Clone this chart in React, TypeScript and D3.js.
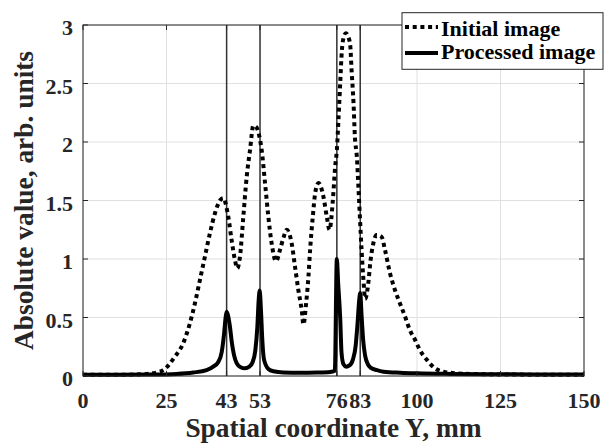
import React from "react";
import * as d3 from "d3";

const xTicks = [0, 25, 43, 53, 76, 83, 100, 125, 150];
const yTicks = [0, 0.5, 1, 1.5, 2, 2.5, 3];
const yTickLabels = ["0", "0.5", "1", "1.5", "2", "2.5", "3"];
const markerLines = [43, 53, 76, 83];

const initX = [0, 5, 10, 15, 20, 22, 24, 27.5, 30, 32, 33.5, 35, 36.5, 38, 39.5, 41, 42, 43.5, 44.5, 45.5, 46.2, 47, 48, 49, 50, 51, 51.8, 53, 53.5, 54.5, 55.5, 56.5, 57.8, 59, 60, 61, 62.5, 63.5, 64.5, 65.5, 66, 66.8, 67.5, 68, 68.8, 69.5, 70.5, 72, 73, 73.8, 74.8, 75.5, 76, 76.5, 77, 77.5, 78, 78.7, 79.4, 80, 80.4, 81, 81.4, 82, 82.4, 82.9, 83.4, 83.9, 84.5, 85.4, 86.1, 86.9, 87.9, 89.4, 90.4, 91.9, 93.4, 94.9, 96.4, 97.9, 99.4, 100.9, 102.9, 105.4, 107.9, 111.9, 120, 130, 140, 150];
const initY = [0.01, 0.01, 0.01, 0.012, 0.02, 0.03, 0.05, 0.165, 0.28, 0.45, 0.62, 0.82, 1.02, 1.22, 1.39, 1.5, 1.52, 1.36, 1.16, 0.99, 0.92, 1.02, 1.36, 1.7, 1.93, 2.14, 2.13, 2.02, 1.93, 1.65, 1.36, 1.13, 0.98, 1.08, 1.18, 1.25, 1.13, 0.93, 0.73, 0.56, 0.44, 0.62, 0.85, 1.08, 1.36, 1.56, 1.65, 1.53, 1.36, 1.25, 1.5, 1.79, 1.93, 2.2, 2.5, 2.78, 2.89, 2.93, 2.9, 2.83, 2.62, 2.33, 2.05, 1.87, 1.65, 1.36, 1.08, 0.85, 0.66, 0.79, 0.99, 1.13, 1.205, 1.19, 1.08, 0.88, 0.735, 0.62, 0.51, 0.39, 0.31, 0.22, 0.14, 0.066, 0.037, 0.023, 0.015, 0.012, 0.01, 0.01];

const procX = [0, 10, 20, 28, 33, 37, 39, 40.5, 41.5, 42.2, 42.7, 43, 43.4, 44, 44.5, 45.2, 46, 47.2, 48.5, 49.8, 50.8, 51.6, 52.2, 52.6, 52.9, 53.3, 53.7, 54.2, 55.5, 57, 60, 65, 70, 74, 75.4, 76, 76.4, 77, 77.4, 78, 78.8, 79.8, 80.8, 81.6, 82.2, 82.7, 83, 83.4, 83.9, 84.5, 85.3, 86.2, 88, 90, 95, 100, 110, 125, 150];
const procY = [0.01, 0.01, 0.012, 0.018, 0.03, 0.05, 0.08, 0.12, 0.2, 0.35, 0.5, 0.55, 0.52, 0.42, 0.3, 0.18, 0.11, 0.075, 0.066, 0.08, 0.12, 0.22, 0.42, 0.65, 0.73, 0.55, 0.3, 0.14, 0.06, 0.04, 0.03, 0.028, 0.03, 0.035, 0.045, 1.0, 0.79, 0.5, 0.2, 0.1, 0.08, 0.09, 0.14, 0.25, 0.45, 0.65, 0.71, 0.52, 0.3, 0.17, 0.1, 0.07, 0.05, 0.037, 0.028, 0.023, 0.018, 0.015, 0.012];

const seriesNames = ["Initial image", "Processed image"];
const xLabel = "Spatial coordinate Y, mm";
const yLabel = "Absolute value, arb. units";

export default function App() {
  const W = 606, H = 445;
  const L = 83, R = 584, T = 25, B = 376;
  const x = d3.scaleLinear().domain([0, 150]).range([L, R]);
  const y = d3.scaleLinear().domain([0, 3]).range([B, T]);
  const line = d3
    .line<[number, number]>()
    .x(d => x(d[0]))
    .y(d => y(d[1]))
    .curve(d3.curveMonotoneX);
  const initPath = line(initX.map((v, i) => [v, initY[i]] as [number, number])) || "";
  const procPath = line(procX.map((v, i) => [v, procY[i]] as [number, number])) || "";
  const font = "'Liberation Serif', 'Times New Roman', serif";
  const axisColor = "#262626";
  const gridColor = "#e0e0e0";
  const tl = 5;
  const lx = 402, ly = 12.7, lw = 201, lh = 56.6;

  return (
    <svg width={W} height={H} style={{ position: "fixed", left: 0, top: 0, background: "#fff" }} fontFamily={font} fontWeight="bold">
      <rect x={0} y={0} width={W} height={H} fill="#fff" />
      {xTicks.map((t, i) => (
        <line key={"gx" + i} x1={x(t)} x2={x(t)} y1={T} y2={B} stroke={gridColor} strokeWidth={1} />
      ))}
      {yTicks.map((t, i) => (
        <line key={"gy" + i} x1={L} x2={R} y1={y(t)} y2={y(t)} stroke={gridColor} strokeWidth={1} />
      ))}
      {markerLines.map((m, i) => (
        <line key={"m" + i} x1={x(m)} x2={x(m)} y1={T} y2={B} stroke="#333" strokeWidth={1.5} />
      ))}
      <path d={initPath} fill="none" stroke="#000" strokeWidth={4} strokeDasharray="4 3.7" />
      <path d={procPath} fill="none" stroke="#000" strokeWidth={4} strokeLinejoin="round" />
      <rect x={L} y={T} width={R - L} height={B - T} fill="none" stroke={axisColor} strokeWidth={1} />
      {xTicks.map((t, i) => (
        <g key={"tx" + i}>
          <line x1={x(t)} x2={x(t)} y1={B} y2={B - tl} stroke={axisColor} />
          <line x1={x(t)} x2={x(t)} y1={T} y2={T + tl} stroke={axisColor} />
          <text x={x(t)} y={B + 32} textAnchor="middle" fontSize={22} fill="#262626">{t}</text>
        </g>
      ))}
      {yTicks.map((t, i) => (
        <g key={"ty" + i}>
          <line x1={L} x2={L + tl} y1={y(t)} y2={y(t)} stroke={axisColor} />
          <line x1={R} x2={R - tl} y1={y(t)} y2={y(t)} stroke={axisColor} />
          <text x={L - 10} y={y(t) + 10} textAnchor="end" fontSize={22} fill="#262626">{yTickLabels[i]}</text>
        </g>
      ))}
      <text x={(L + R) / 2} y={437} textAnchor="middle" fontSize={27.4} fill="#262626">{xLabel}</text>
      <text transform={`translate(33, ${(T + B) / 2}) rotate(-90)`} textAnchor="middle" fontSize={27.4} fill="#262626">{yLabel}</text>
      <rect x={lx} y={ly} width={lw} height={lh} fill="#fff" stroke={axisColor} strokeWidth={1} />
      <line x1={405} x2={438} y1={27} y2={27} stroke="#000" strokeWidth={4} strokeDasharray="4 3.7" />
      <text x={441} y={35.7} fontSize={22} fill="#000">{seriesNames[0]}</text>
      <line x1={405} x2={438} y1={53} y2={53} stroke="#000" strokeWidth={4} />
      <text x={441} y={59.3} fontSize={22} fill="#000">{seriesNames[1]}</text>
    </svg>
  );
}
